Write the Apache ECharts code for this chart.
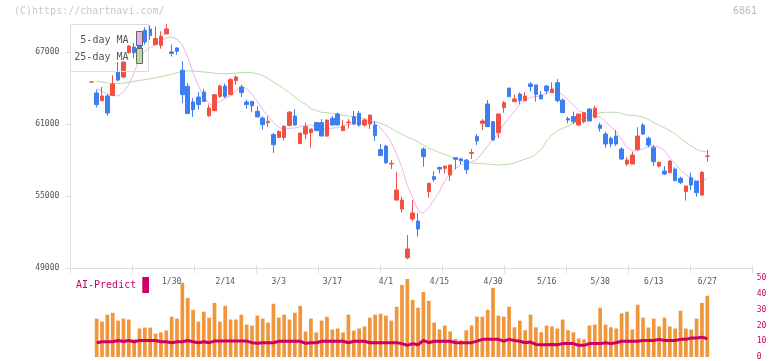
<!DOCTYPE html>
<html><head><meta charset="utf-8">
<script src="https://cdn.jsdelivr.net/npm/echarts@6/dist/echarts.min.js"></script>
<style>html,body{margin:0;padding:0;background:#fff}#c{width:772px;height:361px}</style>
</head><body><div id="c"></div>
<script>
// ---- data (c1..c116) ----
const opens = [64520,63610,62970,63360,63410,65360,64940,66970,67440,67700,68830,68940,67640,67580,68530,67030,67360,65500,64160,62860,63270,63690,61720,62140,63330,64190,63470,64640,64110,62860,62910,62080,61520,61140,60140,59910,59910,60910,61690,59390,60190,60300,61140,61140,60020,61500,61860,60470,61140,61640,61910,60940,61020,60940,58890,59190,57700,54690,53940,49880,53110,52940,58940,55390,56640,57410,57330,56770,58220,58110,58020,58580,59970,61080,62690,61220,60300,62390,64020,62890,63520,62970,64360,64280,63440,64190,63640,64470,63020,61470,61640,60940,61220,62270,61580,60940,60190,59830,60020,58940,57690,57690,58910,60940,59830,59050,57520,57110,56970,57270,56500,55390,56550,56270,55110,58330];
const closes = [64520,62640,63360,61940,64360,64690,66190,67520,66970,67200,67860,68390,68140,68330,68940,66910,67080,63470,61890,62220,62640,62910,62360,63470,64190,63330,64720,64940,63640,62640,62550,61610,60970,61250,59300,60410,60830,62020,60940,60270,60800,60610,60470,60020,61360,60940,60940,60860,61190,61020,60940,61360,61770,60050,58390,57800,57750,55520,54690,50610,53610,52270,58300,56080,56410,57270,57520,57610,58080,57970,57220,58650,59610,61270,60800,59690,61860,62800,63300,63110,62970,63360,64140,63500,63110,63780,63940,62970,61970,61360,61220,61860,61970,61270,62330,60660,59360,59360,59360,58110,58020,58440,60020,60190,59270,57890,57830,56860,57940,56300,56140,55860,55940,55300,57000,58360];
const lows = [64520,62410,62910,61720,63360,64580,64860,66900,66520,66900,67640,68050,67640,67300,68530,66640,66800,62770,61890,61610,62220,62910,61610,62080,63190,63190,63410,64300,63270,62300,62000,61610,60550,60770,58610,59860,59640,60830,60890,59390,59770,59050,60470,60020,59970,60940,60940,60470,60660,60940,60800,60800,60610,59610,58390,57690,57270,54640,53640,49750,52890,51640,57470,54890,56220,56910,56910,56300,57250,57660,56860,58110,59270,60520,60800,59690,59860,61970,63300,62890,62660,62970,63720,62890,63110,63500,63640,62830,61970,61080,61020,60860,61080,61270,61500,60390,59050,59080,59190,58020,57520,57690,58800,60110,59080,57520,57390,56770,56970,56300,56020,54640,55520,54970,55020,57890];
const highs = [64520,63890,64110,63520,65080,66190,66190,67600,67780,68000,69080,69250,69160,68750,69360,67640,67410,66250,64440,63190,63690,63940,62640,63470,64300,64390,64860,65080,64300,63050,62910,62500,61660,61660,60270,60470,60910,62080,62270,60270,61140,60610,61220,61440,61360,61690,61970,61360,61440,62110,62110,61500,61770,61270,59360,59270,58020,57050,54970,51770,54690,53610,59080,56080,57110,57470,57520,57610,58220,58220,58110,58940,60190,61440,63020,61220,61860,62940,64020,63470,63640,63660,64520,64280,63780,64280,64500,64780,63160,61640,62050,61860,62050,62330,62550,61140,60390,59970,60520,59080,58250,58720,60750,61080,59970,59270,57890,57520,58020,57410,56640,55860,56970,56270,57110,58860];
const ma5 = [null,63970,63750,63520,63410,63360,63700,64300,65300,66500,67100,67400,67640,67910,68200,68270,68100,67600,66600,65300,64200,63300,62700,62600,62900,63150,63350,63800,64100,64000,63500,62900,62200,61700,61150,60750,60550,60650,60700,60800,60900,60940,60800,60600,60650,60680,60720,60800,61000,61050,61100,61150,61200,61050,60700,60150,59500,58500,57400,55900,54900,53800,53600,54050,54700,55400,56300,56900,57300,57650,57700,57850,58100,58600,59200,59700,60300,61000,61550,62100,62650,63000,63250,63300,63400,63580,63690,63700,63450,63050,62600,62150,61900,61750,61700,61600,61200,60800,60400,59700,59100,58800,58800,58950,59150,59180,59100,58800,58200,57700,57200,56800,56550,56200,56200,56500];
const ma25 = [null,64580,64520,64450,64400,64400,64430,64500,64580,64650,64720,64800,64880,64970,65060,65170,65300,65400,65450,65440,65400,65360,65320,65260,65220,65210,65230,65260,65300,65320,65300,65220,65060,64800,64530,64250,63920,63650,63250,62950,62660,62300,62140,62000,61970,61910,61830,61750,61690,61640,61550,61440,61270,61220,61080,60910,60660,60390,60160,59940,59780,59550,59270,59000,58830,58640,58500,58330,58140,57970,57860,57770,57750,57720,57690,57660,57610,57660,57660,57770,57940,58110,58220,58500,58910,59610,60110,60470,60660,60860,61080,61300,61500,61640,61830,61970,62000,62000,62000,61910,61770,61750,61690,61580,61410,61140,60940,60720,60470,60190,59830,59500,59190,58910,58750,58690];
const volumes = [null,24.4,22.5,26.9,28.1,23.1,24.4,23.8,11.2,18.1,18.7,18.7,14.9,15.6,16.8,25.6,24.4,47.2,37.6,30.0,22.5,28.8,25.0,34.4,22.5,32.5,23.8,23.8,26.9,20.6,20.0,26.3,24.4,21.9,33.8,25.0,26.9,23.8,28.1,32.5,16.2,24.4,15.6,23.1,25.6,17.5,18.1,15.6,26.9,16.8,18.1,19.4,25.0,26.9,27.5,26.3,23.1,31.9,45.8,49.6,36.3,31.3,41.3,35.7,21.9,17.5,20.0,16.2,11.5,10.6,17.0,20.0,25.6,25.6,30.0,43.9,26.3,25.6,31.9,18.9,23.1,17.0,26.9,18.9,15.7,20.0,19.4,18.1,23.8,17.0,15.7,11.8,11.2,20.0,20.6,31.3,20.6,18.9,18.1,27.7,28.8,17.5,33.2,25.0,18.7,24.4,19.4,25.0,19.4,18.1,29.4,18.1,17.5,24.4,34.4,38.9];
const aiPredict = [null,9.1,9.7,9.7,9.7,10.5,9.9,10.5,9.7,10.5,10.5,10.5,10.5,9.7,9.7,9.1,9.7,9.7,10.5,9.7,9.1,9.7,9.1,10.1,10.1,10.1,10.1,10.1,10.1,10.1,9.1,8.8,9.1,9.1,9.1,10.0,10.0,10.0,10.0,10.0,8.7,9.1,9.1,10.0,10.0,10.0,10.0,10.0,9.1,10.0,10.0,10.0,9.1,9.1,9.1,9.1,9.1,9.1,8.5,7.4,8.5,7.8,10.5,9.1,10.0,10.0,10.0,10.0,9.1,9.1,9.1,9.1,10.1,11.2,11.2,11.2,11.2,10.1,11.2,10.5,10.0,9.1,9.5,8.0,7.8,7.8,8.0,7.8,8.5,8.5,8.5,7.4,7.4,8.5,8.5,8.5,9.1,8.5,9.1,10.0,10.0,10.0,10.0,10.5,10.5,10.5,11.2,10.5,10.5,10.5,11.2,11.2,12.1,12.1,12.6,11.6];
const tickLabels = ['1/30','2/14','3/3','3/17','4/1','4/15','4/30','5/16','5/30','6/13','6/27'];
const firstLabelIndex = 15, labelStep = 10;
const priceTicks = [49000,55000,61000,67000];

// ---- build ----
const n = closes.length;
const cats = [];
for (let i = 0; i < n; i++) {
  const k = (i - firstLabelIndex) / labelStep;
  cats.push(k >= 0 && Number.isInteger(k) && k < tickLabels.length ? tickLabels[k] : '');
}
const ohlc = closes.map((c, i) => [opens[i], c, lows[i], highs[i]]);

const MONO = 'DejaVu Sans Mono';
const UP = '#f25040', DOWN = '#3f7ef0';
const L = 91.3, R = 64.7, TOP = 24.7, BOT = 92.7;

const chart = echarts.init(document.getElementById('c'), null, {renderer: 'canvas'});
chart.setOption({
  animation: false,
  backgroundColor: '#fff',
  grid: [
    {left: L, right: R, top: TOP, bottom: BOT},
    {left: L, right: R, top: 278.3, bottom: 3.3},
    {left: 70.3, right: 19.7, top: TOP, bottom: BOT}
  ],
  xAxis: [
    {type: 'category', gridIndex: 0, data: cats, boundaryGap: false,
     axisLine: {show: false}, axisTick: {show: false}, splitLine: {show: false},
     axisLabel: {interval: 0, color: '#555', fontFamily: MONO, fontSize: 8, margin: 10}},
    {type: 'category', gridIndex: 1, data: cats, boundaryGap: false, show: false},
    {type: 'value', gridIndex: 2, min: 0, max: 11, interval: 1, position: 'bottom',
     axisLine: {lineStyle: {color: '#dedede'}}, axisTick: {length: 5, lineStyle: {color: '#dedede'}},
     axisLabel: {show: false}, splitLine: {show: false}},
    {type: 'value', gridIndex: 2, min: 0, max: 11, interval: 1, position: 'top', offset: -243.6,
     axisLine: {show: false}, axisTick: {length: 3, lineStyle: {color: '#dedede'}},
     axisLabel: {show: false}, splitLine: {show: false}}
  ],
  yAxis: [
    {type: 'value', gridIndex: 0, min: 49000, max: 69300, show: false, splitLine: {show: false}},
    {type: 'value', gridIndex: 1, min: 0, max: 50, interval: 10, position: 'right', offset: 45,
     axisLine: {show: false}, axisTick: {show: false}, splitLine: {show: false},
     axisLabel: {color: '#cc0066', fontFamily: MONO, fontSize: 8, margin: 4.5}},
    {type: 'value', gridIndex: 2, min: 49000, max: 69300, position: 'left',
     axisLine: {show: true, lineStyle: {color: '#dedede'}},
     axisTick: {show: true, length: 5, customValues: priceTicks, lineStyle: {color: '#dedede'}},
     axisLabel: {customValues: priceTicks, formatter: v => String(v), color: '#555', fontFamily: MONO, fontSize: 8, margin: 11},
     splitLine: {show: false}}
  ],
  series: [
    {type: 'line', name: '25-day MA', xAxisIndex: 0, yAxisIndex: 0, data: ma25, symbol: 'none',
     lineStyle: {width: 1, color: '#b4dca4'}, z: 2},
    {type: 'line', name: '5-day MA', xAxisIndex: 0, yAxisIndex: 0, data: ma5, symbol: 'none',
     lineStyle: {width: 1, color: '#e8b4ec'}, z: 2},
    {type: 'candlestick', xAxisIndex: 0, yAxisIndex: 0, data: ohlc, barWidth: 4, clip: false,
     itemStyle: {color: UP, color0: DOWN, borderColor: UP, borderColor0: DOWN, borderWidth: 1}, z: 3},
    {type: 'bar', xAxisIndex: 1, yAxisIndex: 1, data: volumes, barWidth: 3.7,
     itemStyle: {color: '#f0963c'}, z: 2},
    {type: 'line', xAxisIndex: 1, yAxisIndex: 1, data: aiPredict, symbol: 'none',
     lineStyle: {width: 3, color: '#cc0066'}, z: 3}
  ],
  graphic: [
    {type: 'text', left: 14, top: 6, z: 100, style: {text: '(C)https://chartnavi.com/', fill: '#c8c8c8', font: '10px "DejaVu Sans Mono"'}},
    {type: 'text', right: 15, top: 6, z: 100, style: {text: '6861', fill: '#bbb', font: '10px "DejaVu Sans Mono"'}},
    {type: 'rect', z: 100, shape: {x: 70.5, y: 24.5, width: 78, height: 47}, style: {fill: 'none', stroke: '#ddd', lineWidth: 1}},
    {type: 'text', z: 100, x: 128.5, y: 40, style: {text: '5-day MA', fill: '#555', font: '10px "DejaVu Sans Mono"', textAlign: 'right', textVerticalAlign: 'middle'}},
    {type: 'rect', z: 100, shape: {x: 136.5, y: 31.5, width: 6, height: 14}, style: {fill: '#e8b4ec', stroke: '#666', lineWidth: 1}},
    {type: 'text', z: 100, x: 128.5, y: 57, style: {text: '25-day MA', fill: '#555', font: '10px "DejaVu Sans Mono"', textAlign: 'right', textVerticalAlign: 'middle'}},
    {type: 'rect', z: 100, shape: {x: 136.5, y: 48.5, width: 6, height: 15}, style: {fill: '#b4dca4', stroke: '#666', lineWidth: 1}},
    {type: 'text', z: 100, x: 76, y: 285.5, style: {text: 'AI-Predict', fill: '#cc0066', font: '10px "DejaVu Sans Mono"', textVerticalAlign: 'middle'}},
    {type: 'rect', z: 100, shape: {x: 142.3, y: 277, width: 6.7, height: 16}, style: {fill: '#cc0066'}}
  ]
});
</script></body></html>
